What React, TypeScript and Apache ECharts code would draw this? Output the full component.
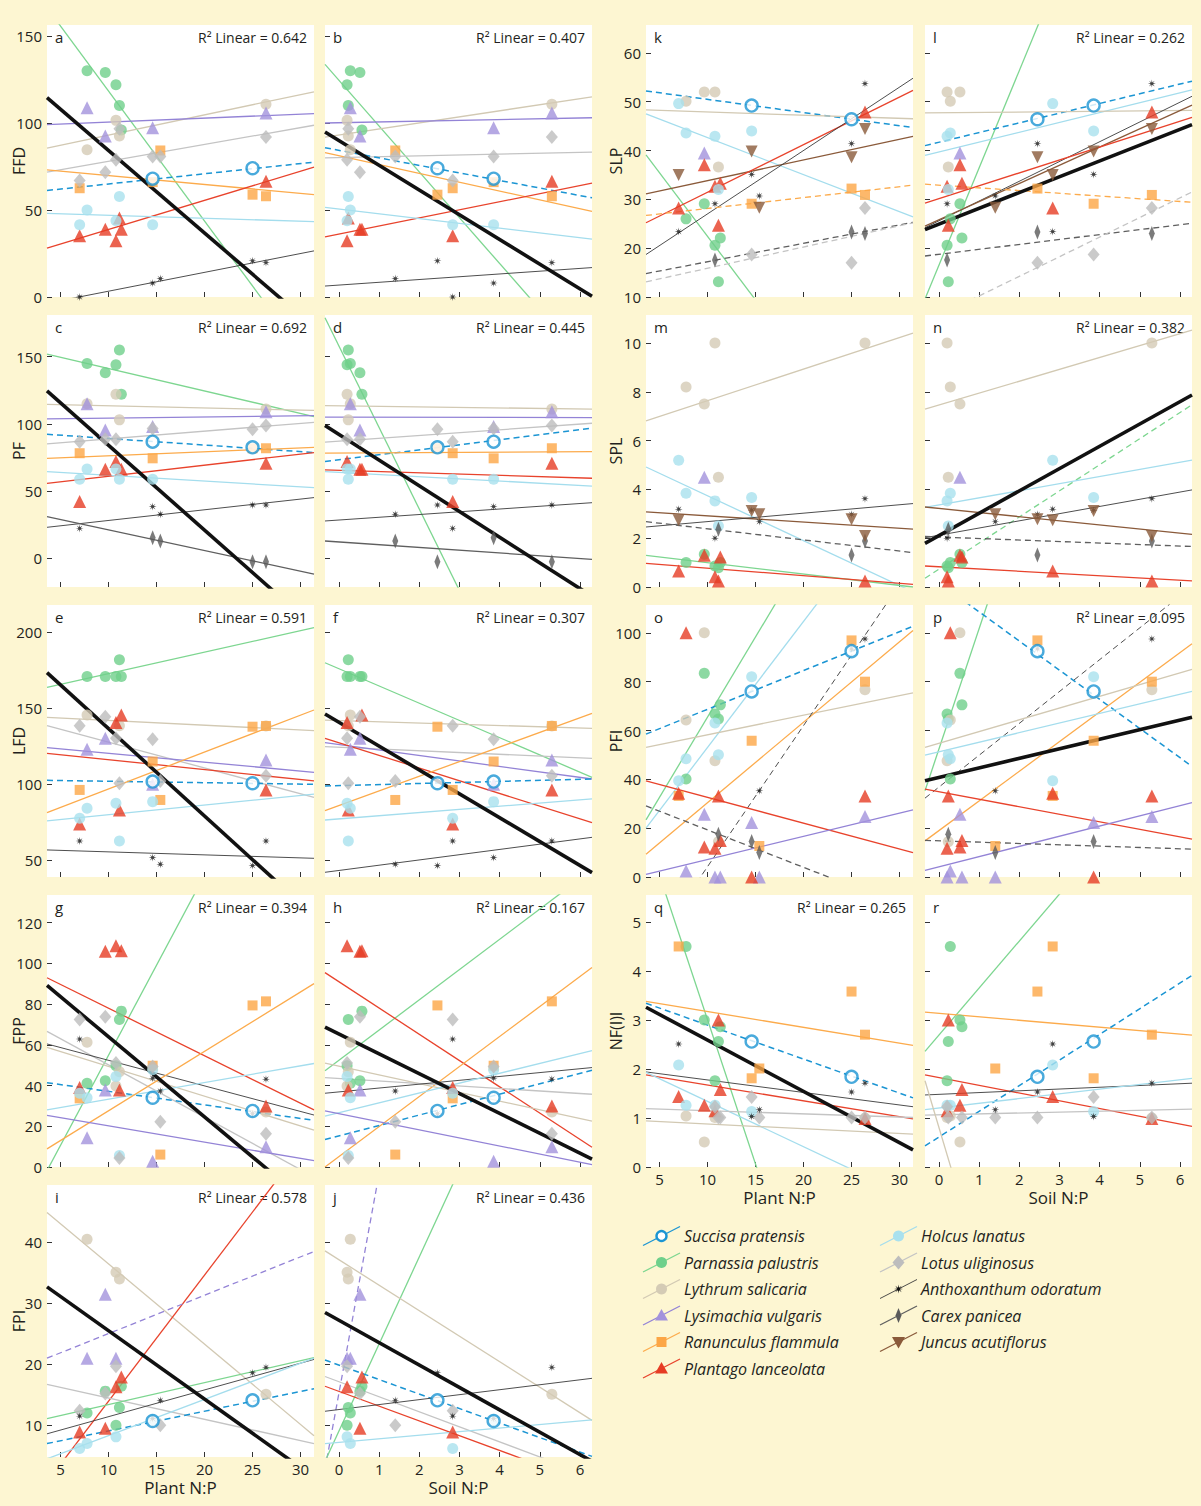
import React, { useEffect, useRef } from "react";
import * as echarts from "echarts";

const _ = null;

// Site-level nutrient ratios; every response table below uses this site order.
const PLANT_NP = [7.0, 7.77, 9.67, 10.78, 11.14, 11.34, 14.6, 15.4, 25.0, 26.4];
const SOIL_NP = [2.83, 0.28, 0.52, 0.2, 0.23, 0.57, 3.85, 1.4, 2.45, 5.3];

const SPECIES = ["suc", "par", "lyt", "lys", "ran", "pla", "hol", "lot", "ant", "car", "jun"];
const SPECIES_NAMES = [
  "Succisa pratensis",
  "Parnassia palustris",
  "Lythrum salicaria",
  "Lysimachia vulgaris",
  "Ranunculus flammula",
  "Plantago lanceolata",
  "Holcus lanatus",
  "Lotus uliginosus",
  "Anthoxanthum odoratum",
  "Carex panicea",
  "Juncus acutiflorus",
];

// Response values per species and site
const FFD_VALUES = {
  suc: [_, _, _, _, _, _, 68, _, 74, _],
  par: [_, 130, 129, 122, 110, 96, _, _, _, _],
  lyt: [_, 84.6, _, 101.5, 92.5, _, _, _, _, 110.8],
  lys: [_, 108.8, 92.5, _, _, _, 97.3, _, _, 105.8],
  ran: [62.5, _, _, _, _, _, 66, 84.2, 58.8, 57.9],
  pla: [35.2, _, 39, 32.3, 45.4, 39, _, _, _, 66.5],
  hol: [41.5, 50, _, 43.8, 57.7, _, 41.5, _, _, _],
  lot: [66.9, _, 71.7, 78.8, 96.7, _, 80.8, 80.8, _, 91.9],
  ant: [0, _, _, _, _, _, 8, 10.6, 20.8, 19.8],
};
const PF_VALUES = {
  suc: [_, _, _, _, _, _, 86.8, _, 82.6, _],
  par: [_, 145, 138, 144, 155, 122, _, _, _, _],
  lyt: [_, 115, _, 122, 103, _, _, _, _, 111],
  lys: [_, 115, 95.5, _, _, _, 98, _, _, 109],
  ran: [78.2, _, _, _, _, _, 74.4, _, 81.9, 81.9],
  pla: [42.2, _, 66.3, 72, _, 66.3, _, _, _, 70.7],
  hol: [58.8, 66.5, _, 66.5, 58.8, _, 58.8, _, _, _],
  lot: [86.8, _, 88.6, 88.6, _, _, 96.5, _, 96, 98.8],
  ant: [22.3, _, _, _, _, _, 38.5, 32.8, 39.7, 39.7],
  car: [_, _, _, _, _, _, 15.4, 12.9, -2.5, -2.5],
};
const LFD_VALUES = {
  suc: [_, _, _, _, _, _, 101.8, _, 100.7, _],
  par: [_, 171, 171, 171, 182, 171, _, _, _, _],
  lyt: [_, 145.6, _, _, 138.6, _, _, _, _, 138.4],
  lys: [_, 123, 130.3, _, _, _, 100, _, _, 116],
  ran: [96.3, _, _, _, _, _, 115, 89.7, 137.9, 138.4],
  pla: [73.9, _, _, 140.6, 83.1, 145.6, _, _, _, 96.3],
  hol: [77.6, 84.2, _, 87.5, 62.7, _, 88.6, _, _, _],
  lot: [138.6, _, 144.5, 130.3, 100.7, _, 129.6, 102.2, _, 105.7],
  ant: [62.7, _, _, _, _, _, 51.8, 47.4, 46.5, 62.7],
};
const FPP_VALUES = {
  suc: [_, _, _, _, _, _, 34, _, 27.5, _],
  par: [_, 41.1, 42.3, 49.7, 72.4, 76.5, _, _, _, _],
  lyt: [_, 61.2, _, 39.8, 46.7, _, _, _, _, 27],
  lys: [_, 14.3, 37.8, _, _, _, 2.8, _, _, 9.9],
  ran: [33.7, _, _, _, _, _, 49.7, 6.1, 79.3, 81.3],
  pla: [39, _, 105.9, 108.6, 37.8, 106.1, _, _, _, 29.9],
  hol: [36.2, 34, _, 44.4, 5.6, _, 47.7, _, _, _],
  lot: [72.4, _, 73.8, 51, 4.4, _, 49.3, 22.2, _, 16.3],
  ant: [62.8, _, _, _, _, _, 43.6, 37.3, 26.2, 43.1],
};
const FPI_VALUES = {
  suc: [_, _, _, _, _, _, 10.7, _, 14.1, _],
  par: [_, 12, 15.6, 10, 12.9, 16.4, _, _, _, _],
  lyt: [_, 40.5, _, 35.1, 34, _, _, _, _, 15.1],
  lys: [_, 21, 31.5, 21, _, _, _, _, _, _],
  pla: [8.9, _, 9.5, 16.3, _, 17.9, _, _, _, _],
  hol: [6.2, 7, _, 8.1, _, _, 10.9, _, _, _],
  lot: [12.4, _, 15.2, 19.7, _, _, _, 10, _, _],
  ant: [11.5, _, _, _, _, _, 11.1, 14.1, 18.6, 19.5],
};
const SLP_VALUES = {
  suc: [_, _, _, _, _, _, 49.2, _, 46.4, _],
  par: [_, 26, 29.1, 20.6, 13.1, 22.1, _, _, _, _],
  lyt: [_, 50.1, 52, 52, 36.6, _, _, _, _, _],
  lys: [_, _, 39.5, _, _, _, _, _, _, _],
  ran: [_, _, _, _, _, _, 29.1, _, 32.2, 30.9],
  pla: [28.2, _, 37.1, 32.7, 24.7, 33.3, _, _, _, 47.9],
  hol: [49.6, 43.6, _, 42.9, 32, _, 44, _, _, _],
  lot: [_, _, _, _, _, _, 18.7, _, 17, 28.2],
  ant: [23.4, _, _, 29.1, _, _, 35.1, 30.7, 41.4, 53.7],
  car: [_, _, _, 17.6, _, _, _, _, 23.3, 23],
  jun: [35, _, _, _, _, _, 39.8, 28.3, 38.6, 44.4],
};
const SPL_VALUES = {
  par: [_, 1.0, 1.34, 0.86, 0.79, 1.0, _, _, _, _],
  lyt: [_, 8.2, 7.5, 10, 4.5, _, _, _, _, 10],
  lys: [_, _, 4.5, _, _, _, _, _, _, _],
  pla: [0.66, _, 1.3, 0.42, 0.25, 1.23, _, _, _, 0.25],
  hol: [5.2, 3.84, _, 3.53, 2.5, _, 3.67, _, _, _],
  ant: [3.19, _, _, 2.0, _, _, 3.15, 2.68, 2.98, 3.62],
  car: [_, _, _, _, 2.37, _, _, _, 1.31, 1.89],
  jun: [2.74, _, _, _, _, _, 3.12, 2.98, 2.78, 2.09],
};
const PFI_VALUES = {
  suc: [_, _, _, _, _, _, 76, _, 92.5, _],
  par: [_, 40.1, 83.4, 66.8, 64.7, 70.5, _, _, _, _],
  lyt: [_, 64.3, 100, 47.6, 14.4, _, _, _, _, 76.7],
  lys: [_, 2.5, 25.7, 0, _, 0, 22.3, 0, _, 24.8],
  ran: [33.2, _, _, _, _, _, 55.8, 12.7, 96.9, 80],
  pla: [34.3, 100, 12.3, 11.8, 33.2, 15, 0, _, _, 33.2],
  hol: [39.4, 48.4, _, 63.1, 50.1, _, 82, _, _, _],
  ant: [_, _, _, _, _, _, _, 35.3, 93.4, 97.5],
  car: [_, _, _, _, 17.5, _, 14.5, 10, _, _],
};
const NFI_VALUES = {
  suc: [_, _, _, _, _, _, 2.56, _, 1.84, _],
  par: [_, 4.5, 3.0, 1.76, 2.56, 2.86, _, _, _, _],
  lyt: [_, 1.04, 0.51, 1.01, _, _, _, _, _, 1.0],
  ran: [4.5, _, _, _, _, _, 1.81, 2.01, 3.58, 2.7],
  pla: [1.44, _, 1.26, 1.15, 3.0, 1.58, _, _, _, 0.99],
  hol: [2.08, 1.26, _, 1.26, _, _, 1.13, _, _, _],
  lot: [_, _, _, 1.23, 1.01, 1.01, 1.43, 1.01, 1.01, 1.01],
  ant: [2.51, _, _, _, _, _, 1.03, 1.17, 1.53, 1.71],
};

// Linear fits: [species, y at axis min, y at axis max, dashed]; "all" is the pooled fit
const FIT_A = [["par", 166.2, -41.5], ["lyt", 85.6, 117.9], ["lys", 99, 105.4], ["lot", 71.7, 98.7], ["suc", 61.2, 77.5, 1], ["ran", 73.1, 58.8], ["pla", 28.1, 74.6], ["hol", 48.1, 43.3], ["ant", -3.6, 26.5], ["all", 114.6, -17.3]];
const FIT_B = [["par", 133.7, -41.3], ["lyt", 91.9, 115], ["lys", 100, 103], ["lot", 80, 83.3], ["suc", 85.8, 57, 1], ["ran", 82.9, 49.2], ["pla", 34.6, 65.4], ["hol", 51.5, 33.3], ["ant", 6.3, 16.9], ["all", 94.8, 0.4]];
const FIT_C = [["par", 151.9, 105.5], ["lyt", 114.6, 110], ["lys", 103.7, 106.2], ["lot", 85.1, 101.2], ["suc", 92.3, 78.7, 1], ["ran", 74.4, 82.6], ["pla", 55.8, 78.7], ["hol", 64.5, 52.6], ["ant", 23.1, 45.2], ["car", 31, -11.7], ["all", 124.6, -51]];
const FIT_D = [["par", 179, -224], ["lyt", 113.6, 111], ["lys", 105, 104.7], ["lot", 86.4, 100.5], ["suc", 72, 96.8, 1], ["ran", 78.2, 79.4], ["pla", 65.8, 59.6], ["hol", 64.5, 53.8], ["ant", 27.8, 41.4], ["car", 12.9, -0.7], ["all", 98.8, -28.2]];
const FIT_E = [["par", 163.8, 203.1], ["lyt", 144.1, 135.3], ["lot", 138.6, 91.4], ["lys", 124.1, 107.9], ["pla", 120.4, 102.2], ["suc", 102.6, 100, 1], ["ran", 81.4, 148.9], ["hol", 75.9, 93.6], ["ant", 56.8, 51.3], ["all", 173.5, 13.6]];
const FIT_F = [["par", 180, 104.6], ["lyt", 142.3, 136.8], ["lot", 124.8, 117.1], ["lys", 127.4, 103.5], ["pla", 130.3, 74.8], ["suc", 98.9, 103.5, 1], ["ran", 82.7, 146.7], ["hol", 76.5, 90.4], ["ant", 42.1, 65.1], ["all", 146.3, 41.9]];
const FIT_G = [["par", -1.8, 244], ["pla", 92.9, 28], ["lot", 66.6, -4.9], ["ant", 60.4, 25.5], ["lyt", 58.7, 18.1], ["suc", 41.4, 22.9, 1], ["hol", 28, 50.8], ["ran", 8.9, 90], ["lys", 25.3, 3.1], ["all", 89.1, -20.2]];
const FIT_H = [["par", 47.2, 145.9], ["pla", 95.4, 9.7], ["ran", 0, 97.9], ["lyt", 51, 22.5], ["lot", 43.9, 35.7], ["ant", 36.2, 48.8], ["hol", 25, 57.1], ["suc", 13.5, 47.5, 1], ["lys", 27.5, 1.2], ["all", 68.6, 3.9]];
const FIT_I = [["lyt", 44.9, 8.3], ["pla", 0.7, 58.2], ["lys", 21, 38.5, 1], ["lot", 16.7, 7], ["par", 11.1, 21.1], ["ant", 8.6, 20.8], ["suc", 7, 16, 1], ["hol", 4.5, 21], ["all", 32.7, 1.5]];
const FIT_J = [["lys", 2.8, 242, 1], ["par", 4.1, 99], ["lyt", 38.6, 10.8], ["suc", 20.7, 4.9, 1], ["lot", 18, 1.6], ["pla", 16.4, 0.3], ["ant", 12.3, 17.7], ["hol", 7, 10.9], ["all", 28.5, 4.1]];
const FIT_K = [["par", 39.1, -33.3], ["suc", 52.2, 44.7, 1], ["lyt", 48.3, 46.5], ["hol", 47.5, 26.4], ["jun", 31.1, 42.9], ["pla", 25.2, 52.3], ["ant", 18.7, 54.8], ["ran", 26.7, 32.9, 1], ["car", 14.8, 25.3, 1], ["lot", 13.1, 25.2, 1]];
const FIT_L = [["par", 9.6, 142], ["suc", 41, 54.2, 1], ["hol", 39, 52.4], ["lyt", 47.7, 48.2], ["ant", 24.2, 51.1], ["jun", 24.5, 49.3], ["pla", 29.2, 46.8], ["ran", 33.1, 29.4, 1], ["car", 18.4, 25.1, 1], ["lot", 4.8, 31.5, 1], ["all", 23.8, 45.3]];
const FIT_M = [["lyt", 6.81, 10.41], ["hol", 4.92, -0.2], ["jun", 3.08, 2.37], ["ant", 2.46, 3.42], ["car", 2.68, 1.41, 1], ["par", 1.3, 0], ["pla", 0.97, 0.11]];
const FIT_N = [["lyt", 7.29, 10.53], ["par", 0.36, 7.47, 1], ["hol", 3.26, 5.2], ["ant", 2.02, 3.98], ["jun", 3.28, 2.16], ["car", 2.07, 1.66, 1], ["pla", 0.86, 0.25], ["all", 1.79, 7.87]];
const FIT_O = [["par", 23.4, 206], ["hol", 20, 163.5], ["suc", 58.5, 102.7, 1], ["lyt", 53.1, 75.4], ["ran", 9.3, 101], ["ant", -32.8, 127.9, 1], ["pla", 39.4, 10], ["car", 29.1, -13.5, 1], ["lys", 1.1, 27.5]];
const FIT_P = [["par", 35.3, 363], ["suc", 124.7, 45.3, 1], ["ant", 32.3, 119, 1], ["ran", 14.8, 95.5], ["lyt", 53.1, 85], ["hol", 49.9, 76], ["pla", 36, 15.5], ["lys", 2.7, 30.5], ["car", 15, 11.4, 1], ["all", 39.4, 65.4]];
const FIT_Q = [["par", 6.78, -9.6], ["ran", 3.38, 2.48], ["suc", 3.34, 1.41, 1], ["ant", 1.94, 1.23], ["pla", 1.88, 0.98], ["hol", 1.93, -0.64], ["lot", 1.19, 1.01], ["lyt", 0.94, 0.67], ["all", 3.26, 0.35]];
const FIT_R = [["par", 2.36, 8.73], ["ran", 3.16, 2.69], ["suc", 0.43, 3.91, 1], ["pla", 1.88, 0.83], ["ant", 1.47, 1.71], ["hol", 1.17, 1.81], ["lot", 1.06, 1.18], ["lyt", 1.76, -16.5]];

const RESPONSES = {
  FFD: { name: "FFD", range: [0, 156.3], ticks: [0, 50, 100, 150], values: FFD_VALUES },
  PF: { name: "PF", range: [-21.3, 181], ticks: [0, 50, 100, 150], values: PF_VALUES },
  LFD: { name: "LFD", range: [39, 218], ticks: [50, 100, 150, 200], values: LFD_VALUES },
  FPP: { name: "FPP", range: [0, 133.5], ticks: [0, 20, 40, 60, 80, 100, 120], values: FPP_VALUES },
  FPI: { name: "FPI", range: [4.8, 49.4], ticks: [10, 20, 30, 40], values: FPI_VALUES },
  SLP: { name: "SLP", range: [10, 65.7], ticks: [10, 20, 30, 40, 50, 60], values: SLP_VALUES },
  SPL: { name: "SPL", range: [0, 11.15], ticks: [0, 2, 4, 6, 8, 10], values: SPL_VALUES },
  PFI: { name: "PFI", range: [0, 111.4], ticks: [0, 20, 40, 60, 80, 100], values: PFI_VALUES },
  NFI: { name: "NF(I)I", range: [0, 5.55], ticks: [0, 1, 2, 3, 4, 5], values: NFI_VALUES },
};

const X_RANGE = { plant: [3.6, 31.4], soil: [-0.35, 6.3] };
const X_TICKS = { plant: [5, 10, 15, 20, 25, 30], soil: [0, 1, 2, 3, 4, 5, 6] };
const X_NAMES = { plant: "Plant N:P", soil: "Soil N:P" };

const PANELS = [
  { id: "a", resp: "FFD", axis: "plant", col: 0, row: 0, r2: "0.642", fits: FIT_A },
  { id: "b", resp: "FFD", axis: "soil", col: 1, row: 0, r2: "0.407", fits: FIT_B },
  { id: "c", resp: "PF", axis: "plant", col: 0, row: 1, r2: "0.692", fits: FIT_C },
  { id: "d", resp: "PF", axis: "soil", col: 1, row: 1, r2: "0.445", fits: FIT_D },
  { id: "e", resp: "LFD", axis: "plant", col: 0, row: 2, r2: "0.591", fits: FIT_E },
  { id: "f", resp: "LFD", axis: "soil", col: 1, row: 2, r2: "0.307", fits: FIT_F },
  { id: "g", resp: "FPP", axis: "plant", col: 0, row: 3, r2: "0.394", fits: FIT_G },
  { id: "h", resp: "FPP", axis: "soil", col: 1, row: 3, r2: "0.167", fits: FIT_H },
  { id: "i", resp: "FPI", axis: "plant", col: 0, row: 4, r2: "0.578", fits: FIT_I, xLabels: true },
  { id: "j", resp: "FPI", axis: "soil", col: 1, row: 4, r2: "0.436", fits: FIT_J, xLabels: true },
  { id: "k", resp: "SLP", axis: "plant", col: 2, row: 0, r2: null, fits: FIT_K },
  { id: "l", resp: "SLP", axis: "soil", col: 3, row: 0, r2: "0.262", fits: FIT_L },
  { id: "m", resp: "SPL", axis: "plant", col: 2, row: 1, r2: null, fits: FIT_M },
  { id: "n", resp: "SPL", axis: "soil", col: 3, row: 1, r2: "0.382", fits: FIT_N },
  { id: "o", resp: "PFI", axis: "plant", col: 2, row: 2, r2: null, fits: FIT_O },
  { id: "p", resp: "PFI", axis: "soil", col: 3, row: 2, r2: "0.095", fits: FIT_P },
  { id: "q", resp: "NFI", axis: "plant", col: 2, row: 3, r2: "0.265", fits: FIT_Q, xLabels: true },
  { id: "r", resp: "NFI", axis: "soil", col: 3, row: 3, r2: null, fits: FIT_R, xLabels: true },
];

// Layout
const COL_LEFT = [47, 325, 646, 925];
const ROW_TOP = [25, 315, 605, 895, 1185];
const PANEL_W = 267;
const PANEL_H = 272;
const FONT = "'Open Sans', 'Noto Sans', sans-serif";
const INK = "#231f20";
const BG = "#fdf6d2";

const STAR_PATH =
  "path://M0,-4.5L0.54,-1.29L3.2,-3.2L1.29,-0.54L4.5,0L1.29,0.54L3.2,3.2L0.54,1.29L0,4.5L-0.54,1.29L-3.2,3.2L-1.29,0.54L-4.5,0L-1.29,-0.54L-3.2,-3.2L-0.54,-1.29Z";

const STYLE = {
  suc: { color: "#1b95d3", line: "#1b95d3", symbol: "circle", size: 12, hollow: true },
  par: { color: "#6fd08b", line: "#7dd690", symbol: "circle", size: 11 },
  lyt: { color: "#d4cbb5", line: "#d2c9b3", symbol: "circle", size: 11 },
  lys: { color: "#a292dc", line: "#9383d6", symbol: "triangle", size: 13 },
  ran: { color: "#fca646", line: "#fcab4c", symbol: "rect", size: 10 },
  pla: { color: "#e63c24", line: "#e8432c", symbol: "triangle", size: 13 },
  hol: { color: "#a9e1ee", line: "#a4dded", symbol: "circle", size: 11 },
  lot: { color: "#bdbdbd", line: "#c4c4c4", symbol: "diamond", size: [12, 14] },
  ant: { color: "#111111", line: "#3a3a3a", symbol: STAR_PATH, size: 8 },
  car: { color: "#5a5a5a", line: "#5f5f5f", symbol: "diamond", size: [6, 15] },
  jun: { color: "#8a5a3a", line: "#8a5a3a", symbol: "triangle", size: 12, rotate: 180 },
  all: { line: "#111111" },
};

function legendMarker(key, cx, cy) {
  const s = STYLE[key];
  const fill = s.color;
  switch (key) {
    case "suc":
      return { type: "circle", shape: { cx, cy, r: 5 }, style: { fill: "#fff", stroke: s.color, lineWidth: 2.4 } };
    case "par":
    case "lyt":
    case "hol":
      return { type: "circle", shape: { cx, cy, r: 5.5 }, style: { fill } };
    case "lys":
    case "pla":
      return { type: "polygon", shape: { points: [[cx, cy - 6.5], [cx + 6.5, cy + 5], [cx - 6.5, cy + 5]] }, style: { fill } };
    case "jun":
      return { type: "polygon", shape: { points: [[cx, cy + 6.5], [cx + 6.5, cy - 5], [cx - 6.5, cy - 5]] }, style: { fill } };
    case "ran":
      return { type: "rect", shape: { x: cx - 5, y: cy - 5, width: 10, height: 10 }, style: { fill } };
    case "lot":
      return { type: "polygon", shape: { points: [[cx, cy - 7], [cx + 6, cy], [cx, cy + 7], [cx - 6, cy]] }, style: { fill } };
    case "car":
      return { type: "polygon", shape: { points: [[cx, cy - 7.5], [cx + 3, cy], [cx, cy + 7.5], [cx - 3, cy]] }, style: { fill } };
    default:
      return {
        type: "polygon",
        shape: {
          points: [[0, -4.5], [0.54, -1.29], [3.2, -3.2], [1.29, -0.54], [4.5, 0], [1.29, 0.54], [3.2, 3.2], [0.54, 1.29], [0, 4.5], [-0.54, 1.29], [-3.2, 3.2], [-1.29, 0.54], [-4.5, 0], [-1.29, -0.54], [-3.2, -3.2], [-0.54, -1.29]].map(([x, y]) => [cx + x, cy + y]),
        },
        style: { fill },
      };
  }
}

function buildOption() {
  const grid = [];
  const xAxis = [];
  const yAxis = [];
  const series = [];
  const graphic = [];

  PANELS.forEach((p, gi) => {
    const left = COL_LEFT[p.col];
    const top = ROW_TOP[p.row];
    const resp = RESPONSES[p.resp];
    const xr = X_RANGE[p.axis];
    const isFirst = p.axis === "plant";

    grid.push({ left, top, width: PANEL_W, height: PANEL_H, show: true, backgroundColor: "#ffffff", borderWidth: 0 });

    xAxis.push({
      type: "value",
      gridIndex: gi,
      min: xr[0],
      max: xr[1],
      axisLine: { show: false, onZero: false },
      splitLine: { show: false },
      axisTick: { show: true, inside: true, length: 5, customValues: X_TICKS[p.axis], lineStyle: { color: "#333", width: 1 } },
      axisLabel: { show: !!p.xLabels, customValues: X_TICKS[p.axis], fontSize: 15, color: INK, margin: 4, fontFamily: FONT },
      name: p.xLabels ? X_NAMES[p.axis] : "",
      nameLocation: "middle",
      nameGap: 22,
      nameMoveOverlap: false,
      nameTextStyle: { fontSize: 17, color: INK, fontFamily: FONT },
    });

    yAxis.push({
      type: "value",
      gridIndex: gi,
      min: resp.range[0],
      max: resp.range[1],
      axisLine: { show: false, onZero: false },
      splitLine: { show: false },
      axisTick: { show: true, inside: true, length: 5, customValues: resp.ticks, lineStyle: { color: "#333", width: 1 } },
      axisLabel: { show: isFirst, customValues: resp.ticks, fontSize: 15, color: INK, margin: 5, fontFamily: FONT },
      name: isFirst ? resp.name : "",
      nameLocation: "middle",
      nameGap: p.col === 2 ? 22 : 20,
      nameMoveOverlap: false,
      nameTextStyle: { fontSize: 16, color: INK, fontFamily: FONT },
    });

    // fitted lines
    p.fits.forEach(([key, y0, y1, dashed]) => {
      const st = STYLE[key];
      const width = key === "all" ? 3.6 : key === "ant" ? 0.9 : key === "suc" ? 1.5 : 1.3;
      series.push({
        type: "line",
        xAxisIndex: gi,
        yAxisIndex: gi,
        data: [[xr[0], y0], [xr[1], y1]],
        symbol: "none",
        silent: true,
        clip: true,
        z: key === "all" ? 3 : 2,
        lineStyle: { color: st.line, width, type: dashed ? [6, 4] : "solid" },
      });
    });

    // observed points
    const xs = isFirst ? PLANT_NP : SOIL_NP;
    SPECIES.forEach((key) => {
      const vals = resp.values[key];
      if (!vals) return;
      const data = [];
      vals.forEach((v, i) => {
        if (v !== null && v !== undefined) data.push([xs[i], v]);
      });
      const st = STYLE[key];
      series.push({
        type: "scatter",
        xAxisIndex: gi,
        yAxisIndex: gi,
        data,
        symbol: st.symbol,
        symbolSize: st.size,
        symbolRotate: st.rotate || 0,
        clip: false,
        silent: true,
        z: key === "suc" ? 6 : 5,
        itemStyle: st.hollow
          ? { color: "#ffffff", borderColor: st.color, borderWidth: 2.4 }
          : { color: st.color },
      });
    });

    graphic.push({
      type: "text",
      x: left + 8,
      y: top + 12,
      style: { text: p.id, fontSize: 15, fontFamily: FONT, fill: INK, verticalAlign: "middle", align: "left" },
    });
    if (p.r2) {
      graphic.push({
        type: "text",
        x: left + PANEL_W - 7,
        y: top + 12,
        style: { text: "R\u00b2 Linear = " + p.r2, fontSize: 14, fontFamily: FONT, fill: INK, verticalAlign: "middle", align: "right" },
      });
    }
  });

  // species key
  SPECIES.forEach((key, idx) => {
    const col = idx < 6 ? 0 : 1;
    const row = idx < 6 ? idx : idx - 6;
    const x0 = col === 0 ? 643 : 880;
    const cy = 1236 + row * 26.5;
    graphic.push({
      type: "line",
      shape: { x1: x0, y1: cy + 9.5, x2: x0 + 37, y2: cy - 9.5 },
      style: { stroke: STYLE[key].line, lineWidth: key === "ant" ? 0.9 : 1.3 },
    });
    graphic.push(legendMarker(key, x0 + 18.5, cy));
    graphic.push({
      type: "text",
      x: x0 + 41,
      y: cy,
      style: { text: SPECIES_NAMES[idx], fontSize: 16, fontStyle: "italic", fontFamily: FONT, fill: INK, verticalAlign: "middle", align: "left" },
    });
  });

  return { animation: false, backgroundColor: BG, grid, xAxis, yAxis, series, graphic };
}

export default function App() {
  const ref = useRef(null);
  useEffect(() => {
    document.body.style.margin = "0";
    const chart = echarts.init(ref.current, null, { renderer: "svg" });
    chart.setOption(buildOption());
    return () => chart.dispose();
  }, []);
  return <div ref={ref} style={{ position: "absolute", left: 0, top: 0, width: 1201, height: 1506 }} />;
}
